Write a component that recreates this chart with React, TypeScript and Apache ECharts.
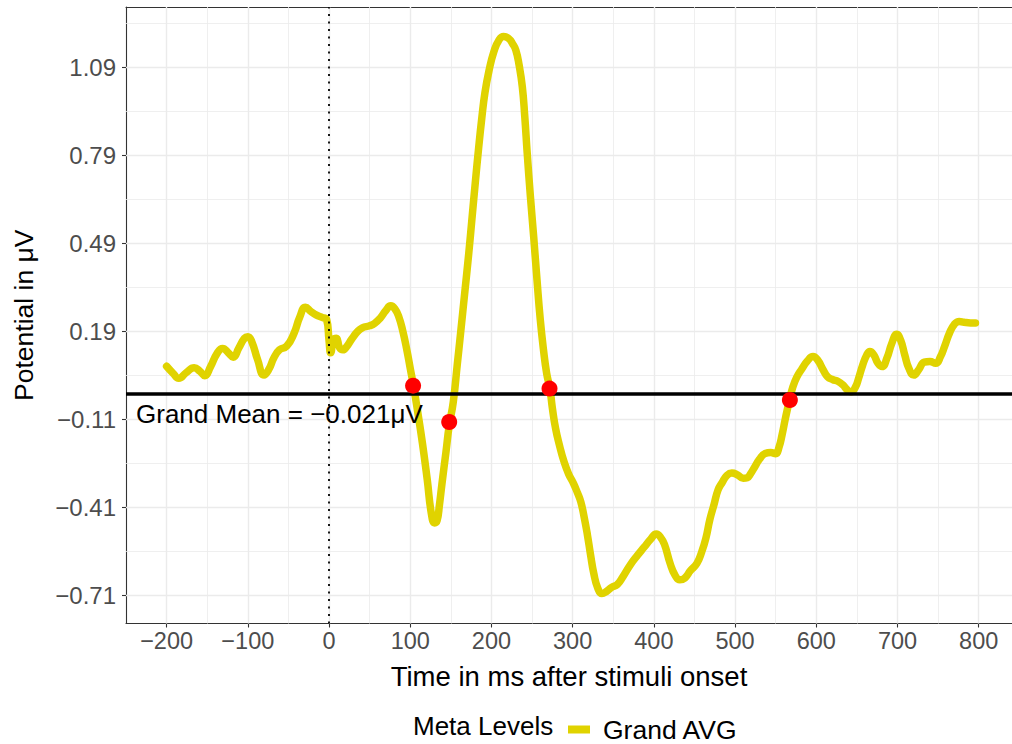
import React, { useEffect, useRef } from "react";
import * as echarts from "echarts";

// Grand average ERP waveform (time in ms, potential in µV)
const timeMs = [
  -200, -192, -185, -176, -166, -159, -153, -146, -138, -131, -124, -118, -111, -104, -100, -95, -88, -80, -74, -68,
  -61, -52, -43, -36, -29, -22, -16, -8, -3, 0, 2, 6, 9, 13, 17, 22, 28, 35, 41, 50,
  56, 63, 70, 76, 81, 86, 91, 96, 100, 104, 109, 115, 121, 126, 130, 133, 136, 139, 144, 148,
  153, 158, 162, 167, 172, 176, 180, 184, 188, 192, 197, 203, 209, 215, 221, 226, 230, 234, 238, 241,
  244, 248, 252, 256, 260, 264, 268, 272, 275, 279, 284, 289, 295, 301, 306, 310, 314, 318, 322, 326,
  331, 336, 342, 348, 355, 362, 371, 380, 388, 396, 403, 408, 413, 420, 426, 432, 438, 445, 453, 459,
  464, 469, 474, 479, 484, 490, 496, 503, 510, 515, 519, 524, 530, 537, 544, 550, 554, 558, 562, 567,
  571, 576, 582, 589, 596, 602, 608, 614, 620, 627, 633, 638, 643, 648, 652, 657, 662, 666, 671, 676,
  681, 687, 693, 699, 704, 709, 714, 720, 726, 733, 740, 747, 753, 758, 764, 770, 776, 782, 790, 796,
];
const potential = [
  0.072, 0.048, 0.031, 0.05, 0.067, 0.055, 0.04, 0.07, 0.115, 0.133, 0.118, 0.103, 0.135, 0.168, 0.173, 0.155, 0.095, 0.042, 0.062, 0.1,
  0.128, 0.141, 0.185, 0.24, 0.273, 0.258, 0.247, 0.238, 0.232, 0.16, 0.118, 0.165, 0.168, 0.135, 0.128, 0.14, 0.165, 0.19, 0.203, 0.21,
  0.218, 0.236, 0.262, 0.278, 0.268, 0.24, 0.19, 0.125, 0.065, 0.005, -0.08, -0.19, -0.316, -0.43, -0.462, -0.455, -0.4, -0.33, -0.22, -0.13,
  -0.05, 0.08, 0.185, 0.32, 0.455, 0.575, 0.695, 0.81, 0.915, 1.005, 1.08, 1.145, 1.183, 1.196, 1.19, 1.172, 1.15, 1.1, 1.025, 0.925,
  0.8, 0.65, 0.514, 0.37, 0.235, 0.13, 0.048, -0.005, -0.07, -0.14, -0.2, -0.25, -0.295, -0.327, -0.36, -0.39, -0.44, -0.5, -0.57, -0.634,
  -0.685, -0.703, -0.695, -0.682, -0.672, -0.645, -0.605, -0.572, -0.545, -0.518, -0.5, -0.51, -0.535, -0.6, -0.64, -0.656, -0.65, -0.625, -0.6, -0.56,
  -0.515, -0.45, -0.4, -0.35, -0.325, -0.3, -0.292, -0.298, -0.31, -0.308, -0.295, -0.272, -0.245, -0.225, -0.222, -0.226, -0.205, -0.16, -0.105, -0.043,
  0.0, 0.035, 0.062, 0.09, 0.105, 0.092, 0.062, 0.036, 0.027, 0.02, 0.008, -0.008, -0.015, 0.0, 0.03, 0.075, 0.11, 0.122, 0.11, 0.082,
  0.071, 0.1, 0.15, 0.181, 0.16, 0.11, 0.065, 0.042, 0.06, 0.086, 0.088, 0.082, 0.105, 0.14, 0.185, 0.215, 0.225, 0.222, 0.22, 0.22,
];

// Marked points on the waveform
const markTime = [103.5, 148, 271.5, 567.5];
const markPotential = [0.006, -0.118, -0.004, -0.043];

const grandMean = -0.021;
const seriesName = "Grand AVG";
const legendTitle = "Meta Levels";

// Axis breaks
const xTicks = [-200, -100, 0, 100, 200, 300, 400, 500, 600, 700, 800];
const xMinor = [-150, -50, 50, 150, 250, 350, 450, 550, 650, 750];
const yTicks = [-0.71, -0.41, -0.11, 0.19, 0.49, 0.79, 1.09];
const yMinor = [-0.56, -0.26, 0.04, 0.34, 0.64, 0.94, 1.24];

const YELLOW = "#E0D300";
const FONT = "'Liberation Sans', Arial, Helvetica, sans-serif";
const AXIS_COLOR = "#333333";
const TICK_TEXT = "#4D4D4D";

const minus = (s: string) => s.replace("-", "\u2212");

export default function App() {
  const ref = useRef<HTMLDivElement>(null);

  useEffect(() => {
    if (!ref.current) return;
    const chart = echarts.init(ref.current, undefined, { renderer: "svg" });

    const gridLines = [
      ...xTicks.map((v) => ({ xAxis: v, lineStyle: { color: "#EBEBEB", width: 1.4, type: "solid" } })),
      ...xMinor.map((v) => ({ xAxis: v, lineStyle: { color: "#EBEBEB", width: 0.8, type: "solid" } })),
      ...yTicks.map((v) => ({ yAxis: v, lineStyle: { color: "#EBEBEB", width: 1.4, type: "solid" } })),
      ...yMinor.map((v) => ({ yAxis: v, lineStyle: { color: "#EBEBEB", width: 0.8, type: "solid" } })),
    ];

    const option: any = {
      animation: false,
      textStyle: { fontFamily: FONT },
      grid: { left: 126, right: 0, top: 7, bottom: 120.5, containLabel: false },
      xAxis: [
        {
          type: "value",
          min: -250,
          max: 841,
          name: "Time in ms after stimuli onset",
          nameLocation: "middle",
          nameGap: 39,
          nameTextStyle: { color: "#000", fontSize: 27.5, fontFamily: FONT },
          axisLine: { show: true, onZero: false, lineStyle: { color: AXIS_COLOR, width: 1.1 } },
          axisTick: { show: true, customValues: xTicks, length: 4, lineStyle: { color: AXIS_COLOR, width: 1.1 } },
          axisLabel: {
            customValues: xTicks,
            margin: 5,
            color: TICK_TEXT,
            fontSize: 23.5,
            fontFamily: FONT,
            formatter: (v: number) => minus(String(Math.round(v))),
          },
          splitLine: { show: false },
        },
        {
          type: "value",
          position: "top",
          min: -250,
          max: 841,
          axisLine: { show: true, onZero: false, lineStyle: { color: AXIS_COLOR, width: 1.1 } },
          axisTick: { show: false },
          axisLabel: { show: false },
          splitLine: { show: false },
        },
      ],
      yAxis: {
        type: "value",
        min: -0.805,
        max: 1.297,
        name: "Potential in \u03BCV",
        nameLocation: "middle",
        nameRotate: 90,
        nameGap: 89,
        nameTextStyle: { color: "#000", fontSize: 26.5, fontFamily: FONT },
        axisLine: { show: true, onZero: false, lineStyle: { color: AXIS_COLOR, width: 1.1 } },
        axisTick: { show: true, customValues: yTicks, length: 4, lineStyle: { color: AXIS_COLOR, width: 1.1 } },
        axisLabel: {
          customValues: yTicks,
          margin: 10,
          color: TICK_TEXT,
          fontSize: 24,
          fontFamily: FONT,
          formatter: (v: number) => minus(Number(v).toFixed(2)),
        },
        splitLine: { show: false },
      },
      legend: {
        data: [seriesName],
        left: 563,
        top: 711,
        icon: "rect",
        itemWidth: 22,
        itemHeight: 8,
        textStyle: { color: "#000", fontSize: 26.5, fontFamily: FONT, padding: [0, 0, 0, 8] },
        selectedMode: false,
      },
      graphic: [
        {
          type: "text",
          left: 413,
          top: 713,
          style: { text: legendTitle, fontSize: 26, fontFamily: FONT, fill: "#000" },
        },
      ],
      series: [
        {
          name: "panel-grid",
          type: "line",
          data: [],
          z: 1,
          silent: true,
          markLine: {
            z: 1,
            silent: true,
            symbol: ["none", "none"],
            label: { show: false },
            data: gridLines,
          },
        },
        {
          name: seriesName,
          type: "line",
          z: 2,
          color: YELLOW,
          itemStyle: { color: YELLOW },
          data: timeMs.map((t, i) => [t, potential[i]]),
          showSymbol: false,
          symbol: "none",
          smooth: 0.5,
          lineStyle: { color: YELLOW, width: 7.5, cap: "round", join: "round" },
        },
        {
          name: "reference-lines",
          type: "line",
          data: [],
          z: 3,
          silent: true,
          markLine: {
            z: 3,
            silent: true,
            symbol: ["none", "none"],
            data: [
              {
                xAxis: 0,
                lineStyle: { color: "#000", width: 1.8, type: [2, 5.5] },
                label: { show: false },
              },
              {
                yAxis: grandMean,
                lineStyle: { color: "#000", width: 3.5, type: "solid" },
                label: {
                  show: true,
                  position: "insideStartBottom",
                  distance: [10, 8],
                  formatter: "Grand Mean = " + minus(grandMean.toFixed(3)) + "\u03BCV",
                  color: "#000",
                  fontSize: 26,
                  fontFamily: FONT,
                },
              },
            ],
          },
        },
        {
          name: "marks",
          type: "scatter",
          z: 4,
          silent: true,
          symbol: "circle",
          symbolSize: 16,
          itemStyle: { color: "#FF0000", opacity: 1 },
          data: markTime.map((t, i) => [t, markPotential[i]]),
        },
      ],
    };

    chart.setOption(option);
    return () => chart.dispose();
  }, []);

  return (
    <div
      ref={ref}
      style={{ position: "fixed", left: 0, top: 0, width: 1012, height: 744, background: "#fff" }}
    />
  );
}
